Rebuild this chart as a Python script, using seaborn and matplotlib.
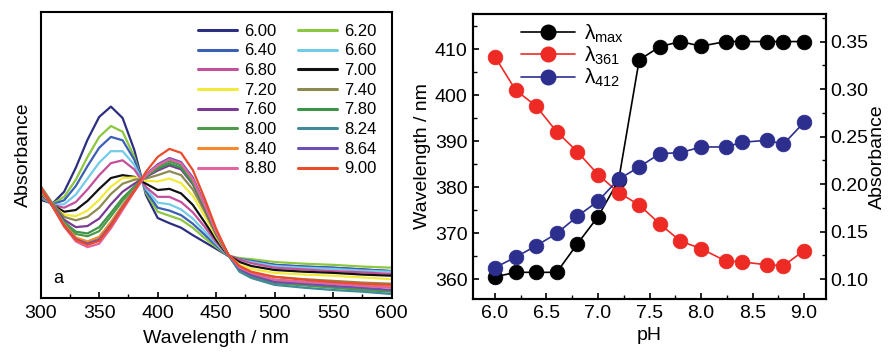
import numpy as np
import pandas as pd
import matplotlib
matplotlib.use("Agg")
import matplotlib.pyplot as plt
from matplotlib.lines import Line2D
from matplotlib.ticker import MultipleLocator, FormatStrFormatter
import seaborn as sns

# ---------------- data: left panel (UV-vis spectra) ----------------
wavelength = [300, 310, 320, 330, 340, 350, 360, 370, 380, 390, 400, 410, 420,
              430, 440, 450, 460, 470, 480, 500, 525, 550, 575, 600]

ph_labels = ["6.00", "6.20", "6.40", "6.60", "6.80", "7.00", "7.20", "7.40",
             "7.60", "7.80", "8.00", "8.24", "8.40", "8.64", "8.80", "9.00"]

abs_600 = [0.172, 0.165, 0.186, 0.228, 0.277, 0.317, 0.335, 0.315, 0.259, 0.180, 0.140, 0.131,
           0.123, 0.110, 0.098, 0.086, 0.074, 0.068, 0.065, 0.058, 0.055, 0.053, 0.050, 0.047]
abs_620 = [0.175, 0.165, 0.177, 0.207, 0.247, 0.282, 0.301, 0.291, 0.247, 0.184, 0.151, 0.144,
           0.137, 0.123, 0.105, 0.089, 0.074, 0.070, 0.068, 0.063, 0.060, 0.058, 0.055, 0.053]
abs_640 = [0.177, 0.164, 0.171, 0.196, 0.231, 0.263, 0.282, 0.276, 0.242, 0.187, 0.158, 0.153,
           0.145, 0.130, 0.111, 0.092, 0.074, 0.068, 0.065, 0.058, 0.055, 0.053, 0.050, 0.047]
abs_660 = [0.179, 0.163, 0.164, 0.181, 0.209, 0.237, 0.257, 0.257, 0.233, 0.191, 0.167, 0.164,
           0.155, 0.139, 0.117, 0.095, 0.074, 0.067, 0.063, 0.056, 0.053, 0.051, 0.048, 0.046]
abs_680 = [0.181, 0.163, 0.158, 0.168, 0.190, 0.215, 0.236, 0.241, 0.225, 0.194, 0.177, 0.177,
           0.168, 0.150, 0.125, 0.098, 0.075, 0.067, 0.061, 0.053, 0.050, 0.047, 0.045, 0.042]
abs_700 = [0.184, 0.163, 0.151, 0.154, 0.170, 0.191, 0.210, 0.215, 0.212, 0.200, 0.189, 0.191,
           0.183, 0.163, 0.133, 0.102, 0.075, 0.063, 0.056, 0.049, 0.046, 0.044, 0.041, 0.039]
abs_720 = [0.186, 0.162, 0.146, 0.143, 0.153, 0.172, 0.195, 0.210, 0.211, 0.205, 0.204, 0.209,
           0.201, 0.179, 0.144, 0.107, 0.076, 0.058, 0.051, 0.044, 0.041, 0.039, 0.036, 0.033]
abs_740 = [0.196, 0.166, 0.142, 0.136, 0.142, 0.158, 0.182, 0.200, 0.207, 0.209, 0.215, 0.222,
           0.215, 0.190, 0.152, 0.110, 0.076, 0.053, 0.044, 0.037, 0.033, 0.030, 0.027, 0.025]
abs_760 = [0.189, 0.162, 0.137, 0.124, 0.126, 0.139, 0.164, 0.186, 0.200, 0.212, 0.223, 0.232,
           0.225, 0.199, 0.158, 0.113, 0.076, 0.049, 0.040, 0.032, 0.028, 0.025, 0.022, 0.019]
abs_780 = [0.190, 0.161, 0.133, 0.116, 0.113, 0.124, 0.149, 0.175, 0.195, 0.213, 0.226, 0.235,
           0.228, 0.201, 0.160, 0.114, 0.076, 0.047, 0.039, 0.028, 0.024, 0.019, 0.016, 0.012]
abs_800 = [0.191, 0.161, 0.131, 0.112, 0.108, 0.117, 0.143, 0.170, 0.193, 0.214, 0.229, 0.239,
           0.232, 0.205, 0.162, 0.115, 0.077, 0.047, 0.037, 0.026, 0.022, 0.018, 0.014, 0.011]
abs_824 = [0.192, 0.161, 0.128, 0.105, 0.098, 0.106, 0.132, 0.162, 0.189, 0.215, 0.231, 0.242,
           0.234, 0.207, 0.164, 0.116, 0.077, 0.046, 0.035, 0.023, 0.018, 0.014, 0.011, 0.007]
abs_840 = [0.191, 0.161, 0.129, 0.106, 0.099, 0.107, 0.133, 0.162, 0.189, 0.215, 0.232, 0.243,
           0.236, 0.208, 0.164, 0.116, 0.077, 0.053, 0.042, 0.030, 0.027, 0.025, 0.022, 0.019]
abs_864 = [0.192, 0.161, 0.127, 0.103, 0.095, 0.102, 0.128, 0.159, 0.188, 0.216, 0.234, 0.245,
           0.238, 0.211, 0.166, 0.117, 0.077, 0.051, 0.040, 0.028, 0.025, 0.021, 0.018, 0.014]
abs_880 = [0.193, 0.161, 0.125, 0.099, 0.089, 0.095, 0.122, 0.154, 0.186, 0.215, 0.232, 0.243,
           0.236, 0.208, 0.164, 0.116, 0.077, 0.053, 0.044, 0.032, 0.028, 0.025, 0.021, 0.018]
abs_900 = [0.193, 0.161, 0.126, 0.102, 0.093, 0.100, 0.126, 0.158, 0.187, 0.221, 0.247, 0.261,
           0.254, 0.224, 0.175, 0.121, 0.077, 0.056, 0.046, 0.037, 0.032, 0.028, 0.025, 0.023]

spectra = [abs_600, abs_620, abs_640, abs_660, abs_680, abs_700, abs_720, abs_740,
           abs_760, abs_780, abs_800, abs_824, abs_840, abs_864, abs_880, abs_900]

curve_colors = ["#2c2f7f", "#8dc63f", "#3a5fb5", "#74cbe8", "#c4509c", "#111111",
                "#f2ea3a", "#8d8a50", "#7a3a92", "#3d9448", "#4f9a4a", "#3f8c98",
                "#f5892c", "#6c4fb3", "#e2649e", "#e94b2b"]

# ---------------- data: right panel ----------------
ph = [6.0, 6.2, 6.4, 6.6, 6.8, 7.0, 7.2, 7.4, 7.6, 7.8, 8.0, 8.24, 8.4, 8.64, 8.8, 9.0]
lambda_max = [360.5, 361.5, 361.5, 361.5, 367.7, 373.6, 381.5, 407.7, 410.6, 411.7,
              410.7, 411.7, 411.7, 411.7, 411.7, 411.7]
abs_361 = [0.334, 0.299, 0.282, 0.255, 0.234, 0.210, 0.191, 0.178, 0.158, 0.140,
           0.132, 0.119, 0.118, 0.115, 0.114, 0.130]
abs_412 = [0.112, 0.123, 0.135, 0.148, 0.166, 0.182, 0.205, 0.218, 0.232, 0.233,
           0.239, 0.239, 0.244, 0.246, 0.242, 0.265]

# ---------------- style ----------------
sns.set_theme(style="white")
plt.rcParams["font.family"] = ["Liberation Sans", "DejaVu Sans"]
plt.rcParams["mathtext.fontset"] = "custom"
plt.rcParams["mathtext.rm"] = "Liberation Sans"
plt.rcParams["mathtext.it"] = "Liberation Sans:italic"
plt.rcParams["axes.edgecolor"] = "black"
plt.rcParams["axes.linewidth"] = 1.5
plt.rcParams["text.color"] = "black"
plt.rcParams["axes.labelcolor"] = "black"
plt.rcParams["xtick.color"] = "black"
plt.rcParams["ytick.color"] = "black"

TICK_FS = 14
LABEL_FS = 14

fig = plt.figure(figsize=(8.89, 3.53), dpi=100)

# ---------------- left panel ----------------
axL = fig.add_axes([0.0458, 0.1558, 0.3948, 0.8093])
df = pd.DataFrame({
    "Wavelength": np.tile(wavelength, len(ph_labels)),
    "Absorbance": np.concatenate(spectra),
    "pH": np.repeat(ph_labels, len(wavelength)),
})
palette = dict(zip(ph_labels, curve_colors))
sns.lineplot(data=df, x="Wavelength", y="Absorbance", hue="pH", hue_order=ph_labels,
             palette=palette, linewidth=1.6, sort=False, legend=False, ax=axL)
axL.set_xlim(300, 600)
axL.set_ylim(0.0, 0.5)
axL.set_yticks([])
axL.xaxis.set_major_locator(MultipleLocator(50))
axL.xaxis.set_minor_locator(MultipleLocator(25))
axL.tick_params(axis="x", which="major", direction="in", length=4, width=1.2,
                labelsize=TICK_FS, pad=5, bottom=True)
axL.tick_params(axis="x", which="minor", direction="in", length=3, width=1.0, bottom=True)
axL.set_xlabel("Wavelength / nm", fontsize=LABEL_FS, labelpad=6)
axL.set_ylabel("Absorbance", fontsize=LABEL_FS, labelpad=6)
axL.text(0.05, 0.07, "a", transform=axL.transAxes, fontsize=13, va="center", ha="center")

# legend ordered row-wise in two columns
order = list(range(0, 16, 2)) + list(range(1, 16, 2))
handles = [Line2D([0], [0], color=curve_colors[i], lw=2.2) for i in order]
labels = [ph_labels[i] for i in order]
axL.legend(handles, labels, ncol=2, loc="upper right", bbox_to_anchor=(0.985, 0.995),
           frameon=False, fontsize=12, handlelength=2.3, handletextpad=0.45,
           columnspacing=1.3, labelspacing=0.28, borderaxespad=0.2)

# ---------------- right panel ----------------
axR = fig.add_axes([0.5324, 0.153, 0.3964, 0.8074])
axR2 = axR.twinx()

df_max = pd.DataFrame({"pH": ph, "Wavelength": lambda_max})
df_361 = pd.DataFrame({"pH": ph, "Absorbance": abs_361})
df_412 = pd.DataFrame({"pH": ph, "Absorbance": abs_412})

mk = dict(marker="o", markersize=10.5, linewidth=1.2, markeredgewidth=0.6)
sns.lineplot(data=df_max, x="pH", y="Wavelength", color="black", markeredgecolor="black",
             ax=axR, legend=False, **mk)
sns.lineplot(data=df_361, x="pH", y="Absorbance", color="#ee2a24", markeredgecolor="#ee2a24",
             ax=axR2, legend=False, **mk)
sns.lineplot(data=df_412, x="pH", y="Absorbance", color="#2d2f8f", markeredgecolor="#2d2f8f",
             ax=axR2, legend=False, **mk)

axR.set_xlim(5.79, 9.21)
axR.set_ylim(355.7, 417.7)
axR2.set_ylim(0.079, 0.379)
axR.xaxis.set_major_locator(MultipleLocator(0.5))
axR.xaxis.set_minor_locator(MultipleLocator(0.25))
axR.yaxis.set_major_locator(MultipleLocator(10))
axR.yaxis.set_minor_locator(MultipleLocator(5))
axR2.yaxis.set_major_locator(MultipleLocator(0.05))
axR2.yaxis.set_minor_locator(MultipleLocator(0.025))
axR.xaxis.set_major_formatter(FormatStrFormatter("%.1f"))
axR2.yaxis.set_major_formatter(FormatStrFormatter("%.2f"))

axR.tick_params(axis="both", which="major", direction="in", length=4, width=1.2,
                labelsize=TICK_FS, left=True, bottom=True, pad=4)
axR.tick_params(axis="both", which="minor", direction="in", length=3, width=1.0,
                left=True, bottom=True)
axR2.tick_params(axis="y", which="major", direction="in", length=4, width=1.2,
                 labelsize=TICK_FS, right=True, pad=3)
axR2.tick_params(axis="y", which="minor", direction="in", length=3, width=1.0, right=True)

axR.set_xlabel("pH", fontsize=LABEL_FS, labelpad=4)
axR.set_ylabel("Wavelength / nm", fontsize=LABEL_FS, labelpad=3)
axR2.set_ylabel("Absorbance", fontsize=LABEL_FS, labelpad=1)

leg_handles = [
    Line2D([0], [0], color="black", marker="o", markersize=10.5, lw=1.2),
    Line2D([0], [0], color="#ee2a24", marker="o", markersize=10.5, lw=1.2),
    Line2D([0], [0], color="#2d2f8f", marker="o", markersize=10.5, lw=1.2),
]
leg_labels = ["λ$_{\\rm max}$", "λ$_{\\rm 361}$", "λ$_{\\rm 412}$"]
axR2.legend(leg_handles, leg_labels, loc="upper left", bbox_to_anchor=(0.1, 1.015),
            frameon=False, fontsize=15, handlelength=2.6, handletextpad=0.4,
            labelspacing=0.0, borderaxespad=0.2)

fig.savefig("out.png", dpi=100)
